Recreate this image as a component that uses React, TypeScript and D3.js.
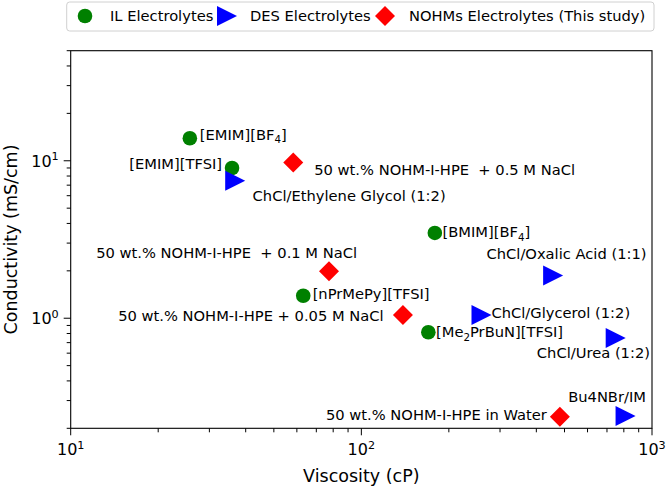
import React from "react";
import * as d3 from "d3";

// ---- data ----
const ilNames = ["[EMIM][BF_4]", "[EMIM][TFSI]", "[BMIM][BF_4]", "[nPrMePy][TFSI]", "[Me_2PrBuN][TFSI]"];
const ilViscosity = [25.7, 35.9, 179, 63.1, 170];
const ilConductivity = [13.9, 9.0, 3.48, 1.39, 0.815];

const desNames = ["ChCl/Ethylene Glycol (1:2)", "ChCl/Oxalic Acid (1:1)", "ChCl/Glycerol (1:2)", "ChCl/Urea (1:2)", "Bu4NBr/IM"];
const desViscosity = [36.8, 457, 259, 750, 811];
const desConductivity = [7.47, 1.87, 1.05, 0.75, 0.239];

const nohmNames = [
  "50 wt.% NOHM-I-HPE  + 0.5 M NaCl",
  "50 wt.% NOHM-I-HPE  + 0.1 M NaCl",
  "50 wt.% NOHM-I-HPE + 0.05 M NaCl",
  "50 wt.% NOHM-I-HPE in Water",
];
const nohmViscosity = [58.3, 77.4, 139, 482];
const nohmConductivity = [9.75, 1.99, 1.05, 0.237];

const legendLabels = ["IL Electrolytes", "DES Electrolytes", "NOHMs Electrolytes (This study)"];
const xTickValues = [10, 100, 1000];
const yTickValues = [1, 10];

// label placement (pixel offsets from the marker, anchor)
const ilLabelPos: [number, number, string][] = [
  [10, 1.5, "start"], [-10, 1, "end"], [7.7, 4.4, "start"], [9.4, 3, "start"], [7.7, 5, "start"],
];
const desLabelPos: [number, number, string][] = [
  [17.4, 20.7, "start"], [93.4, -16.7, "end"], [10, 3, "start"], [34.3, 20.4, "end"], [-57.4, -14, "start"],
];
const nohmLabelPos: [number, number, string][] = [
  [21, 12.3, "start"], [28, -13.4, "end"], [-19.3, 6.4, "end"], [-13, 3, "end"],
];

const FONT = "DejaVu Sans, sans-serif";
const W = 666, H = 487;
const L = 70.7, R = 652, T = 50.7, B = 428.3;

function RichText({ s, x, y, anchor, size }: { s: string; x: number; y: number; anchor: string; size: number }) {
  const parts: React.ReactNode[] = [];
  const re = /_(\d)/g;
  let last = 0;
  let m: RegExpExecArray | null;
  let k = 0;
  let shifted = false;
  while ((m = re.exec(s)) !== null) {
    const before = s.slice(last, m.index);
    if (before) parts.push(<tspan key={k++} dy={shifted ? -3.5 : 0}>{before}</tspan>);
    shifted = false;
    parts.push(<tspan key={k++} fontSize={size * 0.7} dy={3.5}>{m[1]}</tspan>);
    shifted = true;
    last = m.index + m[0].length;
  }
  const rest = s.slice(last);
  if (rest) parts.push(<tspan key={k++} dy={shifted ? -3.5 : 0}>{rest}</tspan>);
  return (
    <text x={x} y={y} textAnchor={anchor as any} fontSize={size} fontFamily={FONT} fill="#000" style={{ whiteSpace: "pre" }}>
      {parts}
    </text>
  );
}

function Circle({ cx, cy }: { cx: number; cy: number }) {
  return <circle cx={cx} cy={cy} r={7.3} fill="green" />;
}
function Tri({ cx, cy }: { cx: number; cy: number }) {
  const p = d3.path();
  p.moveTo(cx + 10, cy);
  p.lineTo(cx - 10, cy - 10);
  p.lineTo(cx - 10, cy + 10);
  p.closePath();
  return <path d={p.toString()} fill="blue" />;
}
function Diamond({ cx, cy }: { cx: number; cy: number }) {
  const p = d3.path();
  p.moveTo(cx, cy - 10);
  p.lineTo(cx + 10, cy);
  p.lineTo(cx, cy + 10);
  p.lineTo(cx - 10, cy);
  p.closePath();
  return <path d={p.toString()} fill="red" />;
}

export default function App() {
  const x = d3.scaleLog().domain([10, 1000]).range([L, R]);
  const y = d3.scaleLog().domain([0.2, 50]).range([B, T]);
  const isMajor = (v: number) => Math.abs(Math.log10(v) - Math.round(Math.log10(v))) < 1e-9;
  const xt = x.ticks();
  const yt = y.ticks();
  const fs = 14.7;

  return (
    <svg width={W} height={H} style={{ position: "absolute", left: 0, top: 0, background: "#fff" }}>
      <rect x={0} y={0} width={W} height={H} fill="#fff" />
      {/* x ticks */}
      {xt.map((v, i) => (
        <line key={"xt" + i} x1={x(v)} x2={x(v)} y1={B} y2={B + (isMajor(v) ? 7 : 4)} stroke="#000" strokeWidth={1} />
      ))}
      {xTickValues.map((v, i) => (
        <text key={"xl" + i} x={x(v)} y={455} textAnchor="middle" fontSize={16} fontFamily={FONT}>
          10<tspan fontSize={11.2} dy={-6.5}>{Math.round(Math.log10(v))}</tspan>
        </text>
      ))}
      {/* y ticks */}
      {yt.map((v, i) => (
        <line key={"yt" + i} x1={L} x2={L - (isMajor(v) ? 7 : 4)} y1={y(v)} y2={y(v)} stroke="#000" strokeWidth={1} />
      ))}
      {yTickValues.map((v, i) => (
        <text key={"yl" + i} x={L - 12} y={y(v) + 6} textAnchor="end" fontSize={16} fontFamily={FONT}>
          10<tspan fontSize={11.2} dy={-6.5}>{Math.round(Math.log10(v))}</tspan>
        </text>
      ))}
      {/* axis labels */}
      <text x={(L + R) / 2} y={482} textAnchor="middle" fontSize={17.5} fontFamily={FONT}>Viscosity (cP)</text>
      <text transform={`translate(17,${(T + B) / 2}) rotate(-90)`} textAnchor="middle" fontSize={17.5} fontFamily={FONT}>
        Conductivity (mS/cm)
      </text>

      {/* markers */}
      {ilViscosity.map((v, i) => <Circle key={"il" + i} cx={x(v)} cy={y(ilConductivity[i])} />)}
      {desViscosity.map((v, i) => <Tri key={"de" + i} cx={x(v)} cy={y(desConductivity[i])} />)}
      {nohmViscosity.map((v, i) => <Diamond key={"no" + i} cx={x(v)} cy={y(nohmConductivity[i])} />)}

      {/* labels */}
      {ilNames.map((n, i) => (
        <RichText key={"ilt" + i} s={n} x={x(ilViscosity[i]) + ilLabelPos[i][0]} y={y(ilConductivity[i]) + ilLabelPos[i][1]} anchor={ilLabelPos[i][2]} size={fs} />
      ))}
      {desNames.map((n, i) => (
        <RichText key={"det" + i} s={n} x={x(desViscosity[i]) + desLabelPos[i][0]} y={y(desConductivity[i]) + desLabelPos[i][1]} anchor={desLabelPos[i][2]} size={fs} />
      ))}
      {nohmNames.map((n, i) => (
        <RichText key={"not" + i} s={n} x={x(nohmViscosity[i]) + nohmLabelPos[i][0]} y={y(nohmConductivity[i]) + nohmLabelPos[i][1]} anchor={nohmLabelPos[i][2]} size={fs} />
      ))}

      {/* frame */}
      <rect x={L} y={T} width={R - L} height={B - T} fill="none" stroke="#000" strokeWidth={1.1} />

      {/* legend */}
      <rect x={66.7} y={2} width={654 - 66.7} height={29} rx={3} fill="#fff" fillOpacity={0.8} stroke="#d0d0d0" strokeWidth={1} />
      <Circle cx={85} cy={16} />
      <text x={110} y={21} fontSize={fs} fontFamily={FONT}>{legendLabels[0]}</text>
      <Tri cx={227} cy={16} />
      <text x={250} y={21} fontSize={fs} fontFamily={FONT}>{legendLabels[1]}</text>
      <Diamond cx={385} cy={16} />
      <text x={409} y={21} fontSize={fs} fontFamily={FONT}>{legendLabels[2]}</text>
    </svg>
  );
}
